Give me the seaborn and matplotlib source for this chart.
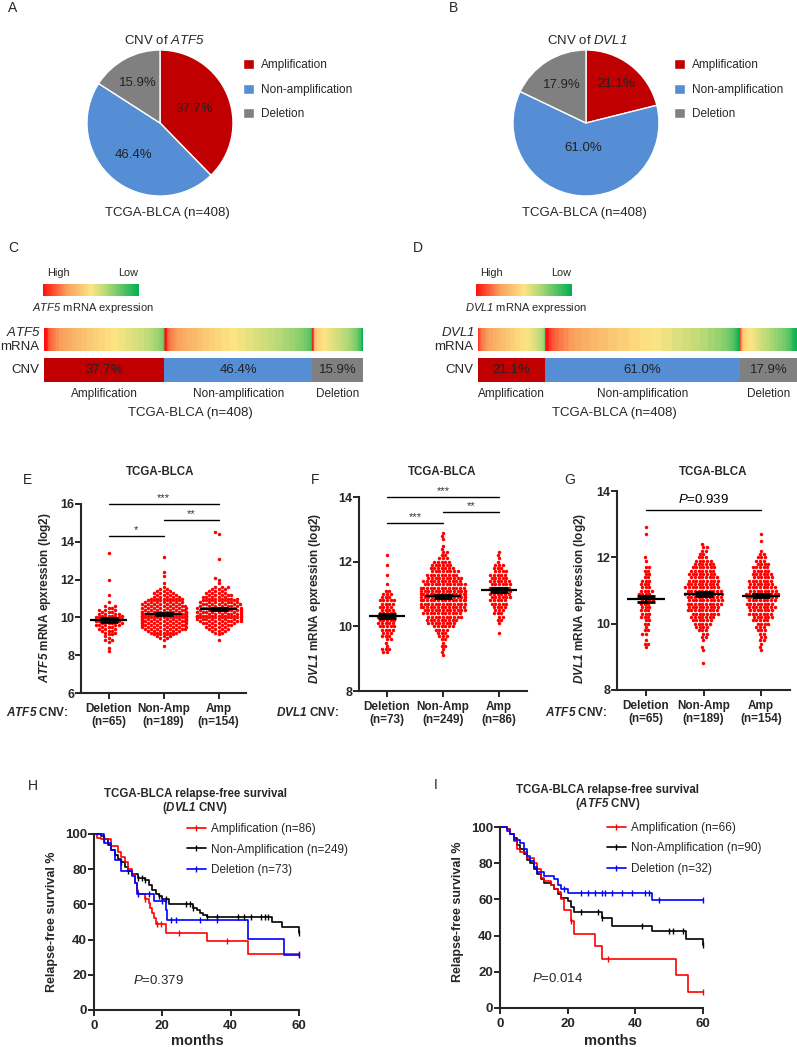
import numpy as np
import pandas as pd
import matplotlib
matplotlib.use('Agg')
import matplotlib.pyplot as plt
import seaborn as sns
from matplotlib.colors import LinearSegmentedColormap
from matplotlib.lines import Line2D

W, H = 797, 1047

# ---------------- data ----------------
cnv_labels = ['Amplification', 'Non-amplification', 'Deletion']
cnv_colors = ['#C00000', '#558ED5', '#808080']
atf5_cnv_pct = [37.7, 46.4, 15.9]
dvl1_cnv_pct = [21.1, 61.0, 17.9]

groups = ['Deletion', 'Non-Amp', 'Amp']
atf5_ticklabels = ['Deletion\n(n=65)', 'Non-Amp\n(n=189)', 'Amp\n(n=154)']
dvl1_ticklabels = ['Deletion\n(n=73)', 'Non-Amp\n(n=249)', 'Amp\n(n=86)']

# E: ATF5 mRNA (log2) by ATF5 CNV -- value levels and number of samples at each level
e_del_val = [8.2, 8.4, 8.7, 8.8, 8.9, 9.0, 9.1, 9.2, 9.3, 9.4, 9.5, 9.6, 9.7, 9.8, 9.9, 10.0, 10.1,
             10.2, 10.3, 10.4, 10.5, 10.6, 10.8, 11.2, 12.0, 13.4]
e_del_cnt = [1, 1, 1, 2, 1, 1, 2, 2, 3, 3, 3, 5, 4, 5, 4, 5, 4, 4, 3, 3, 2, 2, 1, 1, 1, 1]
e_non_val = [8.5, 8.8, 8.9, 9.0, 9.1, 9.2, 9.3, 9.4, 9.5, 9.6, 9.7, 9.8, 9.9, 10.0, 10.1, 10.2, 10.3,
             10.4, 10.5, 10.6, 10.7, 10.8, 10.9, 11.0, 11.1, 11.2, 11.3, 11.4, 11.5, 11.6, 11.8, 12.2,
             12.4, 13.2]
e_non_cnt = [1, 1, 2, 3, 4, 5, 6, 8, 8, 9, 9, 10, 10, 10, 10, 10, 10, 8, 8, 8, 7, 7, 6, 6, 5, 4, 4,
             3, 2, 1, 1, 1, 1, 1]
e_amp_val = [8.8, 9.1, 9.2, 9.3, 9.4, 9.5, 9.6, 9.7, 9.8, 9.9, 10.0, 10.1, 10.2, 10.3, 10.4, 10.5,
             10.6, 10.7, 10.8, 10.9, 11.0, 11.1, 11.2, 11.3, 11.4, 11.5, 11.6, 11.8, 12.0, 12.1, 13.1,
             14.4, 14.5]
e_amp_cnt = [1, 1, 2, 3, 4, 4, 5, 6, 8, 8, 9, 9, 8, 8, 8, 8, 7, 7, 7, 6, 6, 5, 5, 4, 3, 3, 3, 1, 1,
             1, 1, 1, 1]

# F: DVL1 mRNA (log2) by DVL1 CNV
f_del_val = [9.2, 9.3, 9.4, 9.5, 9.6, 9.7, 9.8, 9.9, 10.0, 10.1, 10.2, 10.3, 10.4, 10.5, 10.6, 10.7,
             10.8, 10.9, 11.0, 11.1, 11.3, 11.6, 11.9, 12.2]
f_del_cnt = [2, 3, 1, 1, 2, 3, 3, 4, 5, 5, 5, 5, 5, 4, 4, 4, 5, 3, 3, 2, 1, 1, 1, 1]
f_non_val = [9.1, 9.2, 9.3, 9.4, 9.5, 9.6, 9.7, 9.8, 9.9, 10.0, 10.1, 10.2, 10.3, 10.4, 10.5, 10.6,
             10.7, 10.8, 10.9, 11.0, 11.1, 11.2, 11.3, 11.4, 11.5, 11.6, 11.7, 11.8, 11.9, 12.0, 12.1,
             12.2, 12.3, 12.4, 12.5, 12.7, 12.8, 12.9]
f_non_cnt = [1, 1, 1, 2, 1, 2, 3, 3, 4, 6, 8, 9, 10, 11, 12, 13, 13, 14, 14, 14, 14, 13, 12, 11, 10,
             9, 8, 7, 6, 5, 3, 2, 2, 1, 1, 1, 1, 1]
f_amp_val = [9.8, 10.1, 10.2, 10.3, 10.4, 10.5, 10.6, 10.7, 10.8, 10.9, 11.0, 11.1, 11.2, 11.3, 11.4,
             11.5, 11.6, 11.7, 11.8, 11.9, 12.0, 12.1, 12.2, 12.3]
f_amp_cnt = [1, 1, 2, 2, 3, 3, 4, 5, 5, 6, 6, 6, 6, 6, 6, 5, 5, 4, 3, 3, 1, 1, 1, 1]

# G: DVL1 mRNA (log2) by ATF5 CNV
g_del_val = [9.3, 9.4, 9.5, 9.7, 9.8, 9.9, 10.0, 10.1, 10.2, 10.3, 10.4, 10.5, 10.6, 10.7, 10.8, 10.9,
             11.0, 11.1, 11.2, 11.3, 11.4, 11.5, 11.6, 11.7, 11.9, 12.0, 12.7, 12.9]
g_del_cnt = [1, 2, 1, 2, 2, 1, 2, 2, 3, 3, 3, 3, 3, 4, 4, 4, 4, 3, 3, 3, 2, 2, 2, 2, 1, 1, 1, 1]
g_non_val = [8.8, 9.2, 9.3, 9.5, 9.6, 9.7, 9.8, 9.9, 10.0, 10.1, 10.2, 10.3, 10.4, 10.5, 10.6, 10.7,
             10.8, 10.9, 11.0, 11.1, 11.2, 11.3, 11.4, 11.5, 11.6, 11.7, 11.8, 11.9, 12.0, 12.1, 12.2,
             12.3, 12.4]
g_non_cnt = [1, 1, 1, 1, 2, 2, 3, 4, 5, 6, 7, 8, 9, 9, 10, 10, 10, 11, 10, 10, 9, 9, 8, 8, 7, 7, 6,
             5, 3, 2, 2, 2, 1]
g_amp_val = [9.2, 9.3, 9.4, 9.5, 9.6, 9.7, 9.8, 9.9, 10.0, 10.1, 10.2, 10.3, 10.4, 10.5, 10.6, 10.7,
             10.8, 10.9, 11.0, 11.1, 11.2, 11.3, 11.4, 11.5, 11.6, 11.7, 11.8, 11.9, 12.0, 12.1, 12.2,
             12.5, 12.7]
g_amp_cnt = [1, 1, 1, 2, 2, 2, 3, 3, 4, 5, 6, 7, 7, 8, 8, 8, 9, 10, 8, 8, 7, 7, 6, 6, 5, 5, 4, 3, 3,
             2, 1, 1, 1]

# H: relapse-free survival by DVL1 CNV (step points, months / %), censor times
h_amp_t = [0, 1, 2, 5, 7, 8, 9, 10, 11, 12, 12.5, 13, 15, 16, 16.5, 17, 17.5, 18, 21, 33, 45, 60]
h_amp_s = [100, 98, 97, 93, 90, 87, 84, 80, 77, 72, 68, 66, 63, 61, 58, 55, 52, 49, 44, 39, 32, 32]
h_amp_c = [15, 18.5, 19.5, 25, 39, 60]
h_non_t = [0, 2, 3, 4, 5, 6, 7, 8, 9, 10, 11, 13, 15, 16, 17, 18, 19, 20, 22, 29, 30, 31, 32, 33,
           52, 55, 60]
h_non_s = [100, 99, 97, 94, 91, 88, 86, 84, 81, 79, 77, 75, 74, 71, 68, 66, 65, 63, 60, 58, 57, 55,
           54, 53, 50, 47, 44]
h_non_c = [3, 8, 10, 13, 14, 15, 19, 21, 27, 28, 29, 33, 36, 42, 44, 46, 49, 50, 51, 60]
h_del_t = [0, 3, 5, 6, 8, 11, 12, 12.5, 17.5, 21, 21.5, 45, 55.5, 60]
h_del_s = [100, 95, 91, 85, 79, 76, 72, 66, 62, 57, 51, 40.5, 31, 31]
h_del_c = [13, 16, 20, 22.5, 24, 31, 36, 60]

# I: relapse-free survival by ATF5 CNV
i_amp_t = [0, 2, 3, 4, 5, 6, 8, 10, 11, 12, 13, 15, 16, 17, 18, 19, 21, 22, 28, 30, 52, 55.5, 60]
i_amp_s = [100, 99, 96, 92, 88, 86, 83, 80, 77, 72, 70, 68, 66, 64, 60, 54, 48, 41, 34, 27, 18, 9, 9]
i_amp_c = [21, 32, 60]
i_non_t = [0, 2, 3, 4, 5, 6, 7, 8, 9, 10, 11, 12, 13, 15, 16, 17, 18, 20, 21, 22, 30, 33, 45, 55, 60]
i_non_s = [100, 99, 96, 94, 90, 88, 85, 82, 80, 77, 74, 71, 69, 68, 66, 63, 61, 59, 56, 53, 50, 45.5,
           42.5, 38, 35]
i_non_c = [24, 29, 30, 42, 50, 51, 54, 60]
i_del_t = [0, 2, 3, 4, 6, 7, 8, 9, 10, 11, 13, 16, 17, 18, 20, 45, 60]
i_del_s = [100, 98, 96, 93, 91, 88, 84, 81, 78, 75, 73, 71, 68, 66, 63.5, 59.5, 59.5]
i_del_c = [19, 24, 26, 28, 30, 31, 33, 36, 39, 43, 44, 47, 60]

# ---------------- style ----------------
sns.set_theme(style='ticks')
plt.rcParams['font.family'] = ['Liberation Sans', 'DejaVu Sans']
plt.rcParams['mathtext.fontset'] = 'custom'
plt.rcParams['mathtext.rm'] = 'Liberation Sans'
plt.rcParams['mathtext.it'] = 'Liberation Sans:italic'
plt.rcParams['mathtext.cal'] = 'Liberation Sans:italic'   # italic that keeps digits italic too
plt.rcParams['mathtext.bf'] = 'Liberation Sans:bold'
try:
    plt.rcParams['mathtext.bfit'] = 'Liberation Sans:bold:italic'
except KeyError:
    pass

fig = plt.figure(figsize=(W / 100, H / 100), dpi=100)


def box(x0, y0, x1, y1):
    return [x0 / W, 1 - y1 / H, (x1 - x0) / W, (y1 - y0) / H]


def ftext(x, y, s, **kw):
    kw.setdefault('ha', 'center')
    kw.setdefault('va', 'center')
    fig.text(x / W, 1 - y / H, s, **kw)


def it(gene):
    return '$\\mathcal{%s}$' % gene


for letter, x, y in [('A', 13, 8), ('B', 453, 8), ('C', 13, 248), ('D', 418, 248), ('E', 28, 480),
                     ('F', 315, 480), ('G', 570, 480), ('H', 33, 786), ('I', 436, 785)]:
    ftext(x, y, letter, fontsize=10)


# ---------------- A / B pies ----------------
def pie_panel(rect, pct, gene, dists, title_x, sub_x, leg_x):
    ax = fig.add_axes(rect)
    wedges, _, autotexts = ax.pie(pct, colors=cnv_colors, startangle=90, counterclock=False,
                                  autopct='%.1f%%', textprops=dict(fontsize=9.5, color='#222222'))
    for w, t, d in zip(wedges, autotexts, dists):
        ang = np.deg2rad((w.theta1 + w.theta2) / 2)
        t.set_position((d * np.cos(ang), d * np.sin(ang)))
    ax.set_xlim(-1, 1)
    ax.set_ylim(-1, 1)
    ftext(title_x, 40, 'CNV of ' + it(gene), fontsize=9.5)
    ftext(sub_x, 213, 'TCGA-BLCA (n=408)', fontsize=9.5)
    fig.legend(wedges, cnv_labels, loc='upper left', bbox_to_anchor=(leg_x / W, 1 - 59 / H),
               frameon=False, fontsize=8.5, handlelength=0.95, handleheight=0.95,
               handletextpad=0.6, labelspacing=1.05, borderpad=0, borderaxespad=0)


pie_panel(box(87, 50, 233, 196), atf5_cnv_pct, 'ATF5', [0.5, 0.57, 0.62], 164, 167, 243)
pie_panel(box(513, 50, 659, 196), dvl1_cnv_pct, 'DVL1', [0.68, 0.34, 0.62], 587, 584, 674)

# ---------------- C / D expression strips ----------------
expr_cmap = LinearSegmentedColormap.from_list(
    'expr', [(0.0, '#00B050'), (0.35, '#B9DA78'), (0.5, '#FDE584'), (0.75, '#F9A15E'), (1.0, '#FF1010')])


def strip_panel(x0, x1, gene, pct, parts, cb_x0, cb_x1, sub_x):
    cb = fig.add_axes(box(cb_x0, 284, cb_x1, 296))
    cb.imshow(np.linspace(1, 0, 256)[None, :], aspect='auto', cmap=expr_cmap, vmin=0, vmax=1)
    cb.set_axis_off()
    ftext(cb_x0 + 15, 273, 'High', fontsize=7.8)
    ftext(cb_x1 - 11, 273, 'Low', fontsize=7.8)
    ftext((cb_x0 + cb_x1) / 2 + 2, 308, it(gene) + ' mRNA expression', fontsize=8)

    # mRNA heat strip: samples sorted high->low within each CNV group,
    # colour scaled on mean +- 2.5 SD of all samples
    allv = np.concatenate(parts)
    lo, hi = allv.mean() - 2.5 * allv.std(), allv.mean() + 2.4 * allv.std()
    row = np.concatenate([np.sort(p)[::-1] for p in parts])
    hm = fig.add_axes(box(x0, 328, x1, 351))
    hm.imshow(row[None, :], aspect='auto', cmap=expr_cmap, vmin=lo, vmax=hi, interpolation='bilinear')
    hm.set_axis_off()

    bar = fig.add_axes(box(x0, 358, x1, 382))
    left = 0
    for p, c, lab in zip(pct, cnv_colors, cnv_labels):
        bar.barh(0, p, left=left, color=c, height=1, edgecolor='none')
        bar.text(left + p / 2, 0, '%.1f%%' % p, ha='center', va='center', fontsize=9.5, color='#222222')
        ftext(x0 + (x1 - x0) * (left + p / 2) / 100, 394, lab, fontsize=8.5)
        left += p
    bar.set_xlim(0, 100)
    bar.set_ylim(-0.5, 0.5)
    bar.set_axis_off()
    ftext(x0 - 3, 333, it(gene), fontsize=9.5, ha='right')
    ftext(x0 - 5, 347, 'mRNA', fontsize=9.5, ha='right')
    ftext(x0 - 5, 370, 'CNV', fontsize=9.5, ha='right')
    ftext(sub_x, 413, 'TCGA-BLCA (n=408)', fontsize=9.5)


def expand(vals, cnts):
    return np.repeat(vals, cnts)


e_parts = [expand(e_del_val, e_del_cnt), expand(e_non_val, e_non_cnt), expand(e_amp_val, e_amp_cnt)]
f_parts = [expand(f_del_val, f_del_cnt), expand(f_non_val, f_non_cnt), expand(f_amp_val, f_amp_cnt)]
g_parts = [expand(g_del_val, g_del_cnt), expand(g_non_val, g_non_cnt), expand(g_amp_val, g_amp_cnt)]

strip_panel(44, 363, 'ATF5', atf5_cnv_pct, [e_parts[2], e_parts[1], e_parts[0]], 43, 139, 190)
strip_panel(478, 797, 'DVL1', dvl1_cnv_pct, [f_parts[2], f_parts[1], f_parts[0]], 476, 572, 614)


# ---------------- E / F / G dot plots ----------------
def dot_panel(rect, parts, ylim, yticks, ticklabels, title_x, ylab_x, ylabel, cnv_x, cnv_gene):
    ax = fig.add_axes(rect)
    df = pd.DataFrame({'group': np.repeat(groups, [len(p) for p in parts]),
                       'value': np.concatenate(parts)})
    sns.swarmplot(data=df, x='group', y='value', order=groups, color='#FF0000', size=2.5,
                  linewidth=0, ax=ax, zorder=2)
    stats = df.groupby('group')['value'].agg(['mean', 'sem'])
    for i, g in enumerate(groups):
        m, se = stats.loc[g, 'mean'], stats.loc[g, 'sem']
        ax.hlines(m, i - 0.33, i + 0.33, color='black', lw=1.6, zorder=5)
        ax.errorbar(i, m, yerr=se, fmt='none', ecolor='black', elinewidth=1.5, capsize=6.5,
                    capthick=2, zorder=5)
    ax.set_xlim(-0.5, 2.5)
    ax.set_ylim(*ylim)
    ax.set_yticks(yticks)
    ax.set_xticks([0, 1, 2])
    ax.set_xticklabels(ticklabels, fontsize=8.5, fontweight='bold', linespacing=1.15)
    ax.set_xlabel('')
    ax.set_ylabel('')
    for lbl in ax.get_yticklabels():
        lbl.set_fontweight('bold')
    ax.tick_params(axis='y', labelsize=9, length=4, width=1.4, pad=1)
    ax.tick_params(axis='x', length=4, width=1.4, pad=3)
    sns.despine(ax=ax)
    for sp in ('left', 'bottom'):
        ax.spines[sp].set_linewidth(1.5)
    ftext(title_x, 472, 'TCGA-BLCA', fontsize=8.3, fontweight='bold')
    ftext(ylab_x, 598, ylabel, fontsize=8.5, fontweight='bold', rotation=90)
    ftext(cnv_x, 712, '$\\mathbfit{%s}$ CNV:' % cnv_gene, fontsize=8.5, fontweight='bold', ha='right')
    return ax


def sig(ax, x0, x1, y, label, dy, size=8, color='#333333'):
    ax.plot([x0, x1], [y, y], color='black', lw=1, clip_on=False)
    ax.text((x0 + x1) / 2, y + dy, label, ha='center', va='bottom', fontsize=size, color=color)


axE = dot_panel(box(81, 504, 246, 693), e_parts, (6, 16), [6, 8, 10, 12, 14, 16], atf5_ticklabels,
                160, 45, '$\\mathbfit{ATF5}$ mRNA epxression (log2)', 68, 'ATF5')
sig(axE, 0, 2, 16.0, '***', 0.05)
sig(axE, 1, 2, 15.15, '**', 0.05)
sig(axE, 0, 1, 14.3, '*', 0.05)

axF = dot_panel(box(359, 497, 527, 691), f_parts, (8, 14), [8, 10, 12, 14], dvl1_ticklabels,
                442, 315, '$\\mathbfit{DVL1}$ mRNA epxression (log2)', 339, 'DVL1')
sig(axF, 0, 2, 14.0, '***', 0.03)
sig(axF, 1, 2, 13.55, '**', 0.03)
sig(axF, 0, 1, 13.2, '***', 0.03)

axG = dot_panel(box(617, 491, 790, 690), g_parts, (8, 14), [8, 10, 12, 14], atf5_ticklabels,
                713, 580, '$\\mathbfit{DVL1}$ mRNA epxression (log2)', 607, 'ATF5')
sig(axG, 0, 2, 13.43, '$P$=0.939', 0.12, size=9.5, color='black')


# ---------------- H / I survival ----------------
def km_curve(ax, t, s, cens, color):
    t = np.asarray(t, float)
    s = np.asarray(s, float)
    ax.step(t, s, where='post', color=color, lw=1.2, clip_on=False)
    idx = np.searchsorted(t, cens, side='right') - 1
    ax.plot(cens, s[idx], ls='none', marker='|', ms=5, mew=1, color=color, clip_on=False)


def km_panel(rect, curves, labels, gene, title_x, title_y, leg_x, leg_y, p_x, p_y, p_text,
             ylab_x, ylab_y):
    ax = fig.add_axes(rect)
    handles = [Line2D([], [], color=c[3], lw=1.2, marker='|', ms=5, mew=1, label=lab)
               for c, lab in zip(curves, labels)]
    for t, s, cens, color in [curves[1], curves[0], curves[2]]:
        km_curve(ax, t, s, cens, color)
    ax.set_xlim(0, 60)
    ax.set_ylim(0, 100)
    ax.set_xticks([0, 20, 40, 60])
    ax.set_yticks([0, 20, 40, 60, 80, 100])
    for lbl in ax.get_xticklabels() + ax.get_yticklabels():
        lbl.set_fontweight('bold')
    ax.tick_params(axis='y', labelsize=9.5, length=4, width=1.4, pad=1)
    ax.tick_params(axis='x', labelsize=9.5, length=4, width=1.4, pad=3)
    sns.despine(ax=ax)
    for sp in ('left', 'bottom'):
        ax.spines[sp].set_linewidth(1.5)
    fig.legend(handles=handles, loc='upper left', bbox_to_anchor=(leg_x / W, 1 - leg_y / H),
               frameon=False, fontsize=8.5, handlelength=1.6, handletextpad=0.4,
               labelspacing=0.72, borderpad=0, borderaxespad=0)
    ftext(title_x, title_y, 'TCGA-BLCA relapse-free survival', fontsize=8.3, fontweight='bold')
    ftext(title_x, title_y + 14, '($\\mathbfit{%s}$ CNV)' % gene, fontsize=8.3, fontweight='bold')
    ftext(p_x, p_y, p_text, fontsize=9.5, ha='left')
    ftext(ylab_x, ylab_y, 'Relapse-free survival %', fontsize=9, fontweight='bold', rotation=90)
    ftext(title_x + 2, 1041, 'months', fontsize=10.5, fontweight='bold')
    return ax


km_panel(box(94, 834, 299, 1010),
         [(h_amp_t, h_amp_s, h_amp_c, '#FF0000'), (h_non_t, h_non_s, h_non_c, 'black'),
          (h_del_t, h_del_s, h_del_c, '#0000FF')],
         ['Amplification (n=86)', 'Non-Amplification (n=249)', 'Deletion (n=73)'],
         'DVL1', 195, 794, 187, 823, 133, 981, '$P$=0.379', 52, 922)

km_panel(box(500, 827, 703, 1008),
         [(i_amp_t, i_amp_s, i_amp_c, '#FF0000'), (i_non_t, i_non_s, i_non_c, 'black'),
          (i_del_t, i_del_s, i_del_c, '#0000FF')],
         ['Amplification (n=66)', 'Non-Amplification (n=90)', 'Deletion (n=32)'],
         'ATF5', 608, 790, 607, 822, 532, 979, '$P$=0.014', 458, 912)

fig.savefig('out.png', dpi=100)
